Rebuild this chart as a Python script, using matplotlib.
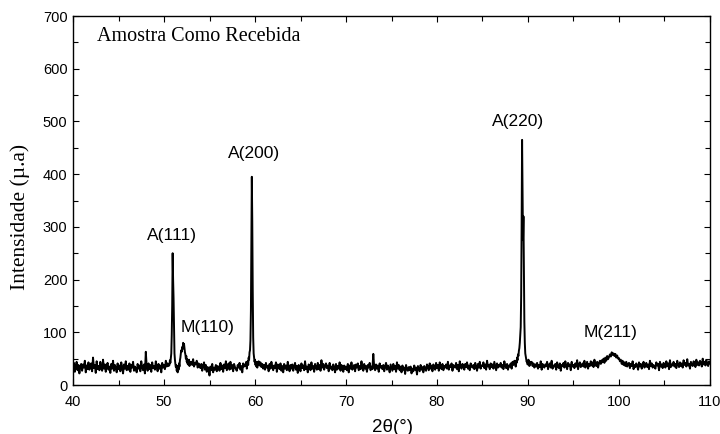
import numpy as np
import matplotlib
matplotlib.use("Agg")
import matplotlib.pyplot as plt
from matplotlib.ticker import MultipleLocator

# baseline counts every 0.1 deg from 40 to 110, one row per degree
# (values inside the peak windows are replaced by the peak lists below)
two_theta_base = np.round(np.arange(40.0, 110.001, 0.1), 1)
counts_base = [
    31, 42, 25, 36, 44, 28, 38, 22, 35, 40,   # 40
    27, 39, 33, 46, 24, 37, 30, 43, 29, 36,   # 41
    41, 26, 52, 32, 38, 23, 45, 30, 36, 28,   # 42
    44, 33, 27, 48, 31, 39, 25, 36, 42, 29,   # 43
    35, 23, 40, 31, 46, 27, 38, 33, 24, 41,   # 44
    30, 37, 26, 43, 34, 22, 39, 31, 45, 28,   # 45
    36, 29, 41, 25, 38, 33, 44, 27, 35, 30,   # 46
    24, 40, 31, 37, 26, 45, 33, 28, 39, 22,   # 47
    63, 34, 27, 41, 30, 38, 25, 43, 32, 36,   # 48
    29, 45, 34, 26, 40, 31, 37, 24, 42, 33,   # 49
    38, 30, 46, 35, 41, 36, 40, 40, 40, 40,   # 50
    40, 40, 40, 40, 40, 40, 40, 40, 40, 40,   # 51
    40, 40, 40, 40, 40, 40, 40, 40, 40, 40,   # 52
    44, 38, 49, 35, 42, 39, 46, 33, 41, 37,   # 53
    32, 40, 27, 36, 43, 29, 38, 25, 34, 31,   # 54
    18, 35, 28, 40, 24, 33, 29, 38, 26, 36,   # 55
    33, 27, 42, 30, 37, 25, 39, 32, 45, 28,   # 56
    36, 41, 29, 44, 31, 38, 26, 40, 34, 30,   # 57
    27, 38, 33, 42, 29, 36, 24, 41, 35, 39,   # 58
    40, 40, 40, 40, 40, 40, 40, 40, 40, 40,   # 59
    40, 40, 40, 40, 45, 37, 43, 34, 40, 31,   # 60
    38, 29, 42, 33, 36, 26, 40, 31, 44, 35,   # 61
    28, 37, 32, 43, 25, 39, 34, 30, 41, 27,   # 62
    36, 24, 40, 31, 37, 28, 44, 33, 26, 38,   # 63
    31, 39, 27, 35, 42, 29, 36, 23, 38, 33,   # 64
    26, 41, 32, 37, 28, 45, 30, 35, 24, 39,   # 65
    34, 28, 43, 31, 36, 25, 40, 33, 29, 42,   # 66
    30, 38, 27, 47, 33, 40, 29, 36, 41, 32,   # 67
    37, 26, 42, 31, 35, 28, 39, 33, 24, 40,   # 68
    29, 36, 31, 43, 27, 38, 34, 25, 37, 30,   # 69
    35, 28, 40, 24, 37, 31, 43, 29, 34, 38,   # 70
    26, 39, 33, 41, 28, 36, 30, 45, 32, 27,   # 71
    40, 31, 36, 25, 38, 33, 42, 28, 35, 30,   # 72
    59, 34, 28, 39, 31, 37, 25, 41, 33, 36,   # 73
    30, 38, 26, 35, 42, 29, 37, 32, 24, 39,   # 74
    33, 27, 40, 30, 36, 25, 43, 31, 38, 28,   # 75
    35, 24, 37, 29, 33, 21, 38, 30, 27, 34,   # 76
    28, 35, 22, 31, 26, 37, 29, 33, 20, 36,   # 77
    31, 26, 38, 29, 34, 24, 36, 30, 27, 39,   # 78
    35, 28, 41, 31, 37, 26, 39, 33, 29, 42,   # 79
    32, 38, 27, 43, 34, 30, 40, 28, 36, 33,   # 80
    39, 31, 44, 29, 37, 34, 41, 27, 38, 35,   # 81
    33, 42, 30, 38, 26, 45, 35, 31, 40, 37,   # 82
    29, 40, 34, 43, 31, 37, 28, 41, 36, 33,   # 83
    38, 30, 42, 35, 27, 40, 33, 44, 31, 37,   # 84
    36, 43, 32, 39, 29, 46, 35, 38, 30, 41,   # 85
    34, 39, 31, 44, 36, 28, 41, 33, 38, 35,   # 86
    42, 33, 38, 30, 45, 36, 32, 40, 29, 37,   # 87
    35, 41, 31, 44, 38, 46, 40, 40, 40, 40,   # 88
    40, 40, 40, 40, 40, 40, 40, 40, 40, 40,   # 89
    40, 40, 40, 40, 44, 36, 41, 33, 39, 35,   # 90
    42, 31, 38, 34, 45, 29, 40, 36, 33, 39,   # 91
    36, 44, 30, 38, 41, 33, 46, 31, 37, 35,   # 92
    40, 29, 43, 35, 32, 41, 27, 38, 36, 42,   # 93
    33, 45, 37, 30, 42, 36, 39, 28, 44, 35,   # 94
    38, 32, 41, 35, 47, 30, 39, 43, 34, 37,   # 95
    41, 35, 46, 33, 38, 44, 31, 40, 36, 45,   # 96
    37, 43, 34, 48, 39, 36, 44, 33, 41, 46,   # 97
    40, 47, 43, 50, 42, 52, 46, 55, 49, 53,   # 98
    58, 54, 62, 57, 60, 55, 59, 52, 56, 50,   # 99
    51, 45, 48, 40, 46, 38, 43, 36, 44, 35,   # 100
    39, 42, 32, 40, 36, 45, 30, 38, 34, 41,   # 101
    36, 29, 43, 35, 40, 31, 38, 44, 33, 37,   # 102
    42, 34, 39, 30, 46, 36, 41, 33, 38, 35,   # 103
    31, 43, 37, 40, 28, 44, 35, 39, 32, 42,   # 104
    38, 33, 45, 36, 41, 30, 47, 34, 39, 37,   # 105
    44, 35, 40, 32, 46, 38, 34, 43, 36, 41,   # 106
    33, 47, 38, 42, 35, 49, 37, 40, 31, 44,   # 107
    39, 36, 45, 41, 34, 48, 38, 43, 37, 46,   # 108
    42, 35, 50, 39, 44, 37, 47, 40, 36, 45,   # 109
    41,
]

# A(111) + M(110)
peak1_x = [50.6, 50.65, 50.7, 50.75, 50.8, 50.85, 50.9, 50.95, 51.0, 51.05, 51.1, 51.15,
           51.2, 51.25, 51.3, 51.35, 51.4, 51.45, 51.5, 51.55, 51.6, 51.65, 51.7, 51.75,
           51.8, 51.85, 51.9, 51.95, 52.0, 52.05, 52.1, 52.15, 52.2, 52.25, 52.3, 52.35,
           52.4, 52.45, 52.5, 52.55, 52.6, 52.65, 52.7, 52.75, 52.8, 52.85, 52.9]
peak1_y = [38, 47, 42, 52, 60, 95, 150, 250, 200, 165, 110, 60,
           48, 40, 34, 38, 27, 33, 24, 36, 29, 41, 35, 47,
           52, 60, 66, 63, 72, 68, 80, 74, 78, 70, 62, 58,
           50, 55, 44, 49, 40, 46, 38, 48, 36, 44, 42]
# A(200)
peak2_x = [59.0, 59.05, 59.1, 59.15, 59.2, 59.25, 59.3, 59.35, 59.4, 59.45, 59.5, 59.55,
           59.6, 59.65, 59.7, 59.75, 59.8, 59.85, 59.9, 59.95, 60.0, 60.05, 60.1, 60.15,
           60.2, 60.25, 60.3]
peak2_y = [36, 44, 31, 42, 45, 38, 52, 48, 62, 66, 85, 140,
           260, 395, 310, 180, 90, 60, 52, 44, 48, 38, 42, 35,
           44, 33, 40]
# A(220)
peak3_x = [88.6, 88.65, 88.7, 88.75, 88.8, 88.85, 88.9, 88.95, 89.0, 89.05, 89.1, 89.15,
           89.2, 89.25, 89.3, 89.35, 89.4, 89.45, 89.5, 89.55, 89.6, 89.65, 89.7, 89.75,
           89.8, 89.85, 89.9, 89.95, 90.0, 90.05, 90.1, 90.15, 90.2, 90.25, 90.3]
peak3_y = [40, 35, 46, 42, 52, 47, 58, 55, 65, 70, 80, 95,
           110, 170, 300, 465, 380, 275, 320, 230, 120, 80, 60, 55,
           50, 44, 46, 39, 42, 48, 45, 36, 38, 44, 41]

labels = ["A(111)", "M(110)", "A(200)", "A(220)", "M(211)"]
label_x = [50.88, 54.84, 59.89, 88.9, 99.12]
label_y = [283, 110, 440, 499, 100]

windows = [(50.55, 52.95), (58.95, 60.35), (88.55, 90.35)]
base_x = np.array(two_theta_base)
base_y = np.array(counts_base, dtype=float)
keep = np.ones(len(base_x), dtype=bool)
for lo, hi in windows:
    keep &= ~((base_x > lo) & (base_x < hi))
x = np.concatenate([base_x[keep], peak1_x, peak2_x, peak3_x])
y = np.concatenate([base_y[keep], peak1_y, peak2_y, peak3_y])
order = np.argsort(x)
x, y = x[order], y[order]

fig = plt.figure(figsize=(7.2, 4.34), dpi=100)
ax = fig.add_axes([0.1014, 0.1129, 0.8847, 0.8502])
ax.plot(x, y, color="black", linewidth=1.4)

ax.set_xlim(40, 110)
ax.set_ylim(0, 700)
ax.xaxis.set_major_locator(MultipleLocator(10))
ax.xaxis.set_minor_locator(MultipleLocator(5))
ax.yaxis.set_major_locator(MultipleLocator(100))
ax.yaxis.set_minor_locator(MultipleLocator(50))
ax.tick_params(which="both", direction="in", top=True, right=True, width=0.8,
               labelsize=10.5)
ax.tick_params(axis="x", pad=7)
ax.tick_params(axis="y", pad=4)
ax.tick_params(which="major", length=4.5)
ax.tick_params(which="minor", length=3.5)
for lab in ax.get_xticklabels() + ax.get_yticklabels():
    lab.set_family("Liberation Sans")
for sp in ax.spines.values():
    sp.set_linewidth(1.0)

fig.text(393 / 720, 1 - 427 / 434, "2θ(°)", ha="center", va="center",
         family="Liberation Sans", fontsize=13.5)
fig.text(20 / 720, 1 - 217 / 434, "Intensidade (µ.a)", ha="center", va="center",
         rotation=90, family="Liberation Serif", fontsize=15.5)

for t, lx, ly in zip(labels, label_x, label_y):
    ax.text(lx, ly, t, ha="center", va="center", family="Liberation Sans", fontsize=12.5)

ax.text(0.0377, 0.932, "Amostra Como Recebida", transform=ax.transAxes,
        ha="left", va="baseline", family="Liberation Serif", fontsize=14.5)

fig.savefig("out.png", dpi=100)
